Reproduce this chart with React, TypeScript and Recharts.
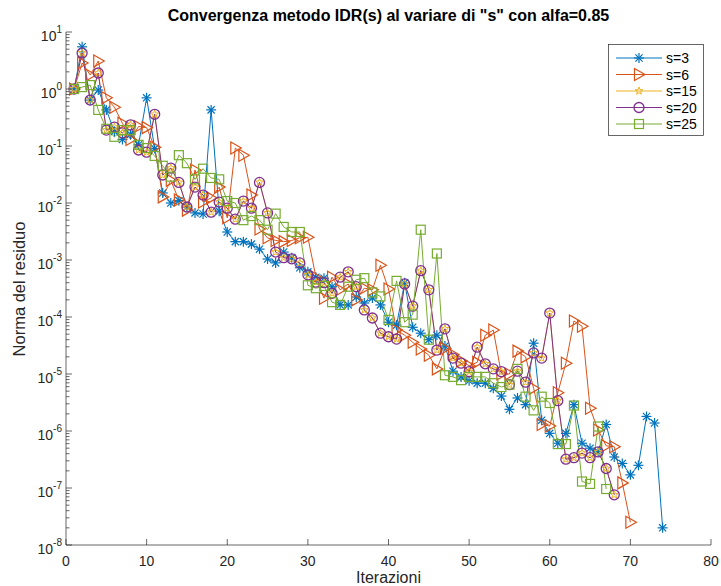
import React from "react";
import { LineChart, Line, XAxis, YAxis } from "recharts";

// residual norm per iteration (iteration = position + 1)
const residS3 = [
  1.0, 5.5, 0.64, 0.96, 0.43, 0.18, 0.13, 0.16, 0.105, 0.7,
  0.09, 0.015, 0.01, 0.011, 0.0085, 0.0067, 0.0064, 0.43, 0.0072, 0.0031,
  0.0021, 0.0021, 0.0019, 0.00155, 0.00104, 0.00089, 0.00138, 0.0011, 0.00073, 0.00062,
  0.0005, 0.00048, 0.00034, 0.000163, 0.000163, 0.000224, 0.000176, 0.000215, 0.000163, 0.000081,
  0.000072, 0.0004, 0.000066, 0.000052, 0.00004, 0.000048, 0.000031, 0.0000112, 0.0000089, 0.0000076,
  0.0000069, 0.0000069, 0.0000056, 0.0000041, 0.0000024, 0.0000038, 0.0000029, 0.0000347, 0.00000155, 9.1e-7,
  6.1e-7, 9.1e-7, 0.0000029, 6.1e-7, 5e-7, 4.3e-7, 1.3e-6, 3.5e-7, 2.7e-7, 1.7e-7,
  2.5e-7, 1.8e-6, 1.38e-6, 2e-8,
];

const residS6 = [
  1.0, 2.86, 1.76, 3.1, 0.7, 0.48, 0.25, 0.13, 0.22, 0.21,
  0.095, 0.0128, 0.025, 0.0113, 0.0075, 0.038, 0.0104, 0.0123, 0.019, 0.0055,
  0.092, 0.069, 0.0138, 0.0035, 0.00245, 0.0022, 0.0021, 0.0022, 0.00245, 0.0025,
  0.0005, 0.000214, 0.0005, 0.0003, 0.00038, 0.0002, 0.00032, 0.0003, 0.00081, 0.00031,
  0.000059, 0.000048, 0.000036, 0.0000275, 0.0000214, 0.0000123, 0.000028, 0.000022, 0.000017, 0.000014,
  0.000016, 0.000048, 0.000059, 0.00001, 0.00001, 0.0000252, 0.00002, 0.0000056, 0.0000013, 0.00000122,
  0.0000047, 0.0000155, 0.000085, 0.000069, 0.0000025, 0.00000104, 5.5e-7, 5.3e-7, 1.23e-7, 2.5e-8,
];

const residS15 = [
  1.0, 4.3, 0.64, 1.91, 0.19, 0.215, 0.17, 0.235, 0.085, 0.078,
  0.36, 0.031, 0.041, 0.023, 0.0085, 0.019, 0.0138, 0.0069, 0.0104, 0.0081,
  0.0052, 0.0108, 0.0081, 0.023, 0.0067, 0.00138, 0.0011, 0.00105, 0.00089, 0.00055,
  0.00041, 0.0004, 0.00026, 0.0005, 0.00062, 0.00034, 0.000133, 0.000096, 0.000052, 0.000045,
  0.000041, 0.00038, 0.000155, 0.00065, 0.0003, 0.0000263, 0.000062, 0.000019, 0.0000155, 0.000011,
  0.0000295, 0.0000151, 0.0000123, 0.000011, 0.0000065, 0.0000112, 0.0000072, 0.0000234, 0.000019, 0.000117,
  0.0000034, 3.2e-7, 3.4e-7, 4.1e-7, 3.4e-7, 4.3e-7, 2.2e-7, 7.6e-8,
];

const residS20 = [
  1.0, 4.3, 0.64, 1.91, 0.19, 0.215, 0.17, 0.235, 0.085, 0.078,
  0.36, 0.031, 0.041, 0.023, 0.0085, 0.019, 0.0138, 0.0069, 0.0104, 0.0081,
  0.0052, 0.0108, 0.0081, 0.023, 0.0067, 0.00138, 0.0011, 0.00105, 0.00089, 0.00055,
  0.00041, 0.0004, 0.00026, 0.0005, 0.00062, 0.00034, 0.000133, 0.000096, 0.000052, 0.000045,
  0.000041, 0.00038, 0.000155, 0.00065, 0.0003, 0.0000263, 0.000062, 0.000019, 0.0000155, 0.000011,
  0.0000295, 0.0000151, 0.0000123, 0.000011, 0.0000065, 0.0000112, 0.0000072, 0.0000234, 0.000019, 0.000117,
  0.0000034, 3.2e-7, 3.4e-7, 4.1e-7, 3.4e-7, 4.3e-7, 2.2e-7, 7.6e-8,
];

const residS25 = [
  1.0, 1.08, 1.17, 0.43, 0.2, 0.145, 0.19, 0.19, 0.105, 0.092,
  0.067, 0.045, 0.029, 0.069, 0.05, 0.026, 0.04, 0.0275, 0.026, 0.0108,
  0.01, 0.005, 0.0059, 0.005, 0.0034, 0.0065, 0.0038, 0.0031, 0.0031, 0.00036,
  0.00032, 0.00035, 0.000182, 0.000163, 0.00034, 0.00045, 0.00048, 0.00027, 0.00023, 0.000089,
  0.00043, 0.000081, 0.00011, 0.0034, 0.00004, 0.0013, 0.0000095, 0.0000089, 0.0000078, 0.0000089,
  0.0000089, 0.0000089, 0.0000069, 0.0000059, 0.0000065, 0.0000123, 0.000004, 0.0000023, 0.000004, 0.0000031,
  5.9e-7, 5.9e-7, 0.0000028, 1.3e-7, 1.18e-7, 0.0000012, 9.6e-8,
];

const seriesNames = ["s=3", "s=6", "s=15", "s=20", "s=25"];
const xTicks = [0, 10, 20, 30, 40, 50, 60, 70, 80];
const yDecades = [1e-8, 1e-7, 1e-6, 1e-5, 1e-4, 1e-3, 1e-2, 1e-1, 1, 10];
const minorSteps = [2, 3, 4, 5, 6, 7, 8, 9];

const FONT = '"Liberation Sans", Arial, Helvetica, sans-serif';
const AX = "#262626";
const COLORS = ["#0072BD", "#D95319", "#EDB120", "#7E2F8E", "#77AC30"];
const KINDS = ["asterisk", "triangle", "star", "circle", "square"];

const yTicks = yDecades.flatMap((d) => (d >= 10 ? [d] : [d, ...minorSteps.map((m) => m * d)]));
const toPoints = (vals: number[]) => vals.map((v, i) => ({ it: i + 1, res: v }));
const allSeries = [residS3, residS6, residS15, residS20, residS25];

function Marker({ kind, cx, cy, color }: { kind: string; cx: number; cy: number; color: string }) {
  if (cx == null || cy == null) return null;
  if (kind === "asterisk") {
    const r = 5;
    const d = 3.6;
    return (
      <g stroke={color} strokeWidth={1.2}>
        <line x1={cx - r} x2={cx + r} y1={cy} y2={cy} />
        <line x1={cx} x2={cx} y1={cy - r} y2={cy + r} />
        <line x1={cx - d} x2={cx + d} y1={cy - d} y2={cy + d} />
        <line x1={cx - d} x2={cx + d} y1={cy + d} y2={cy - d} />
      </g>
    );
  }
  if (kind === "triangle") {
    return (
      <polygon
        points={`${cx - 4.5},${cy - 6} ${cx + 6},${cy} ${cx - 4.5},${cy + 6}`}
        fill="none"
        stroke={color}
        strokeWidth={1.2}
      />
    );
  }
  if (kind === "star") {
    const pts: string[] = [];
    for (let k = 0; k < 10; k++) {
      const a = ((-90 + 36 * k) * Math.PI) / 180;
      const r = k % 2 === 0 ? 4 : 1.7;
      pts.push(`${cx + r * Math.cos(a)},${cy + r * Math.sin(a)}`);
    }
    return <polygon points={pts.join(" ")} fill="none" stroke={color} strokeWidth={1} />;
  }
  if (kind === "circle") {
    return <circle cx={cx} cy={cy} r={5} fill="none" stroke={color} strokeWidth={1.3} />;
  }
  return <rect x={cx - 4.5} y={cy - 4.5} width={9} height={9} fill="none" stroke={color} strokeWidth={1.2} />;
}

const isMajor = (v: number) => Math.abs(Math.log10(v) - Math.round(Math.log10(v))) < 1e-6;

function LeftTick(props: any) {
  const { x, y, payload } = props;
  const v = payload.value;
  const major = isMajor(v);
  return (
    <g>
      <line x1={x} x2={x + (major ? 6 : 3.5)} y1={y} y2={y} stroke={AX} strokeWidth={0.7} />
      {major && (
        <text x={x - 4} y={y + 9} textAnchor="end" fontSize={14} fontFamily={FONT} fill={AX}>
          10
          <tspan dy={-8} fontSize={10}>
            {Math.round(Math.log10(v))}
          </tspan>
        </text>
      )}
    </g>
  );
}

function RightTick(props: any) {
  const { x, y, payload } = props;
  const major = isMajor(payload.value);
  return <line x1={x} x2={x - (major ? 6 : 3.5)} y1={y} y2={y} stroke={AX} strokeWidth={0.7} />;
}

function BottomTick(props: any) {
  const { x, y, payload } = props;
  return (
    <g>
      <line x1={x} x2={x} y1={y} y2={y - 6} stroke={AX} strokeWidth={0.7} />
      <text x={x} y={y + 21} textAnchor="middle" fontSize={14} fontFamily={FONT} fill={AX}>
        {payload.value}
      </text>
    </g>
  );
}

function TopTick(props: any) {
  const { x, y } = props;
  return <line x1={x} x2={x} y1={y} y2={y + 6} stroke={AX} strokeWidth={0.7} />;
}

function LegendBox() {
  return (
    <svg width={96} height={92} style={{ position: "absolute", left: 608, top: 44 }}>
      <rect x={0.5} y={0.5} width={95} height={91} fill="#fff" stroke={AX} strokeWidth={0.7} />
      {seriesNames.map((name, i) => {
        const cy = 14 + i * 16.5;
        return (
          <g key={name}>
            <line x1={8} x2={54} y1={cy} y2={cy} stroke={COLORS[i]} strokeWidth={1} />
            <Marker kind={KINDS[i]} cx={31} cy={cy} color={COLORS[i]} />
            <text x={58} y={cy + 5} fontSize={14} fontFamily={FONT} fill="#000">
              {name}
            </text>
          </g>
        );
      })}
    </svg>
  );
}

export default function App() {
  return (
    <div style={{ position: "absolute", left: 0, top: 0, width: 721, height: 586, background: "#fff", fontFamily: FONT }}>
      <div
        style={{
          position: "absolute",
          top: 7,
          left: 66,
          width: 645,
          textAlign: "center",
          fontWeight: "bold",
          fontSize: 16,
          color: "#000",
        }}
      >
        Convergenza metodo IDR(s) al variare di "s" con alfa=0.85
      </div>
      <div
        style={{
          position: "absolute",
          left: 19,
          top: 289,
          transform: "translate(-50%, -50%) rotate(-90deg)",
          whiteSpace: "nowrap",
          fontSize: 16.5,
          color: AX,
        }}
      >
        Norma del residuo
      </div>
      <div
        style={{
          position: "absolute",
          top: 570,
          left: 66,
          width: 645,
          textAlign: "center",
          fontSize: 16,
          lineHeight: 1,
          color: AX,
        }}
      >
        Iterazioni
      </div>
      <LineChart width={721} height={586} margin={{ top: 32, right: 10, bottom: 0, left: 0 }}>
        <XAxis
          xAxisId="bottom"
          dataKey="it"
          type="number"
          domain={[0, 80]}
          ticks={xTicks}
          interval={0}
          height={41}
          tickSize={0}
          tickMargin={0}
          tickLine={false}
          axisLine={{ stroke: AX, strokeWidth: 0.7 }}
          tick={<BottomTick />}
          allowDataOverflow
        />
        <XAxis
          xAxisId="top"
          orientation="top"
          type="number"
          domain={[0, 80]}
          ticks={xTicks}
          interval={0}
          height={0}
          tickSize={0}
          tickMargin={0}
          tickLine={false}
          axisLine={{ stroke: AX, strokeWidth: 0.7 }}
          tick={<TopTick />}
          allowDataOverflow
        />
        <YAxis
          yAxisId="left"
          type="number"
          scale="log"
          domain={[1e-8, 10]}
          ticks={yTicks}
          interval={0}
          width={66}
          tickSize={0}
          tickMargin={0}
          tickLine={false}
          axisLine={{ stroke: AX, strokeWidth: 0.7 }}
          tick={<LeftTick />}
          allowDataOverflow
        />
        <YAxis
          yAxisId="right"
          orientation="right"
          type="number"
          scale="log"
          domain={[1e-8, 10]}
          ticks={yTicks}
          interval={0}
          width={0}
          tickSize={0}
          tickMargin={0}
          tickLine={false}
          axisLine={{ stroke: AX, strokeWidth: 0.7 }}
          tick={<RightTick />}
          allowDataOverflow
        />
        {allSeries.map((vals, i) => (
          <Line
            key={seriesNames[i]}
            xAxisId="bottom"
            yAxisId="left"
            data={toPoints(vals)}
            dataKey="res"
            type="linear"
            stroke={COLORS[i]}
            strokeWidth={1}
            isAnimationActive={false}
            dot={(p: any) => (
              <Marker key={`${seriesNames[i]}-${p.index}`} kind={KINDS[i]} cx={p.cx} cy={p.cy} color={COLORS[i]} />
            )}
            activeDot={false}
          />
        ))}
      </LineChart>
      <LegendBox />
    </div>
  );
}
